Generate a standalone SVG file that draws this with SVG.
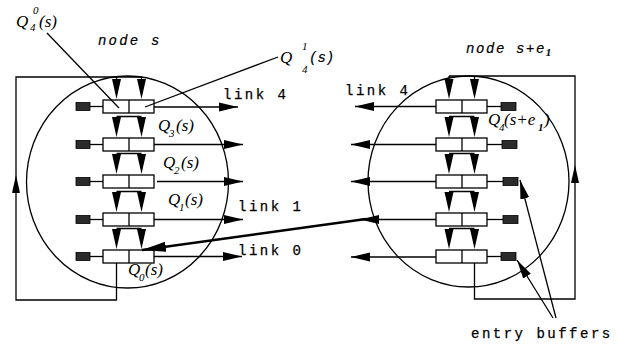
<svg xmlns="http://www.w3.org/2000/svg" width="618" height="344" viewBox="0 0 618 344">
  <style>
    .ln { fill: none; stroke: #000; stroke-width: 1.3; }
    .box { fill: #fff; stroke: #000; stroke-width: 1.3; }
    .ent { fill: #2b2b2b; stroke: #000; stroke-width: 0.8; }
    .hd { fill: #000; stroke: none; }
    .q { font-family: "Liberation Serif", serif; font-style: italic; font-size: 17px; fill: #000; }
    .qs { font-family: "Liberation Serif", serif; font-style: italic; font-size: 11px; fill: #000; }
    .mono { font-family: "Liberation Mono", monospace; font-size: 14px; letter-spacing: 2.5px; fill: #000; stroke: #000; stroke-width: 0.25; }
    .monoi { font-family: "Liberation Mono", monospace; font-style: italic; font-size: 14px; letter-spacing: 2.2px; fill: #000; stroke: #000; stroke-width: 0.2; }
  </style>
  <defs>
    <marker id="ah" markerWidth="19" markerHeight="10" refX="19" refY="5" orient="auto" markerUnits="userSpaceOnUse">
      <path d="M0,0.5 L19,5 L0,9.5 Z" fill="#000"/>
    </marker>
    <marker id="ahBig" markerWidth="24" markerHeight="11" refX="24" refY="5.5" orient="auto" markerUnits="userSpaceOnUse">
      <path d="M0,0.5 L24,5.5 L0,10.5 Z" fill="#000"/>
    </marker>
    <!-- downward arrowhead, base at y=0, tip at y=20 -->
    <path id="down" d="M-4.5,0 L4.5,0 L0,20 Z"/>
    <!-- queue pair: two buffer cells side by side, 51 x 13 -->
    <g id="pair">
      <rect class="box" x="0" y="0" width="51" height="13"/>
      <line class="ln" x1="26" y1="0" x2="26" y2="13"/>
    </g>
  </defs>

  <!-- node s -->
  <g id="node-s">
    <ellipse class="ln" cx="127.5" cy="182" rx="101" ry="106"/>
    <text class="monoi" x="98" y="45">node s</text>
    <!-- queue rows 4..0 -->
    <use href="#pair" x="103" y="100"/>
    <use href="#pair" x="103" y="138"/>
    <use href="#pair" x="103" y="175"/>
    <use href="#pair" x="103" y="213"/>
    <use href="#pair" x="103" y="250"/>
    <!-- entry buffers -->
    <g>
      <rect class="ent" x="76" y="102.5" width="14" height="8"/>
      <rect class="ent" x="76" y="140.5" width="14" height="8"/>
      <rect class="ent" x="76" y="177.5" width="14" height="8"/>
      <rect class="ent" x="76" y="215.5" width="14" height="8"/>
      <rect class="ent" x="76" y="252.5" width="14" height="8"/>
      <line class="ln" x1="90" y1="106.5" x2="103" y2="106.5"/>
      <line class="ln" x1="90" y1="144.5" x2="103" y2="144.5"/>
      <line class="ln" x1="90" y1="181.5" x2="103" y2="181.5"/>
      <line class="ln" x1="90" y1="219.5" x2="103" y2="219.5"/>
      <line class="ln" x1="90" y1="256.5" x2="103" y2="256.5"/>
    </g>
    <!-- labels -->
    <text class="q" x="16" y="27">Q</text><text class="qs" x="30" y="31">4</text><text class="qs" x="33" y="14">0</text><text class="q" x="39" y="27">(s)</text>
    <text class="q" x="158" y="131">Q</text><text class="qs" x="169" y="137">3</text><text class="q" x="176" y="131">(s)</text>
    <text class="q" x="163" y="168">Q</text><text class="qs" x="174" y="174">2</text><text class="q" x="181" y="168">(s)</text>
    <text class="q" x="168" y="205">Q</text><text class="qs" x="179" y="211">1</text><text class="q" x="185" y="205">(s)</text>
    <text class="q" x="128" y="275">Q</text><text class="qs" x="139" y="281">0</text><text class="q" x="145" y="275">(s)</text>
    <text class="q" x="280" y="63">Q</text><text class="qs" x="302" y="50">1</text><text class="qs" x="302" y="73">4</text><text class="monoi" x="309" y="62" style="letter-spacing:0">(s)</text>
  </g>

  <!-- node s+e1 -->
  <g id="node-s-e1">
    <ellipse class="ln" cx="468.5" cy="181.5" rx="100.5" ry="105.5"/>
    <text class="monoi" x="466" y="53" style="letter-spacing:1.6px">node s+e<tspan font-family="Liberation Serif, serif" font-weight="bold" font-size="10" dy="3">1</tspan></text>
    <use href="#pair" x="436" y="100"/>
    <use href="#pair" x="436" y="138"/>
    <use href="#pair" x="436" y="175"/>
    <use href="#pair" x="436" y="213"/>
    <use href="#pair" x="436" y="250"/>
    <g>
      <rect class="ent" x="501" y="102.5" width="15" height="8"/>
      <rect class="ent" x="502" y="140.5" width="15" height="8"/>
      <rect class="ent" x="503" y="177.5" width="15" height="8"/>
      <rect class="ent" x="503" y="215.5" width="15" height="8"/>
      <rect class="ent" x="501" y="252.5" width="15" height="8"/>
      <line class="ln" x1="487" y1="106.5" x2="501" y2="106.5"/>
      <line class="ln" x1="487" y1="144.5" x2="502" y2="144.5"/>
      <line class="ln" x1="487" y1="181.5" x2="503" y2="181.5"/>
      <line class="ln" x1="487" y1="219.5" x2="503" y2="219.5"/>
      <line class="ln" x1="487" y1="256.5" x2="501" y2="256.5"/>
    </g>
    <text class="q" x="488" y="125">Q</text><text class="qs" x="499" y="131">4</text><text class="q" x="504" y="125">(s+e</text><text class="qs" x="538" y="131" font-weight="bold">1</text><text class="q" x="544" y="125">)</text>
  </g>

  <!-- connectors -->
  <g id="connectors">
    <!-- recirculation loop, node s -->
    <path class="ln" d="M116.5,263 V300 H16 V77 H142"/>
    <path class="hd" d="M16,175 L20,193 L12,193 Z"/>
    <!-- recirculation loop, node s+e1 -->
    <path class="ln" d="M474.5,263 V299 H575 V76 H449"/>
    <path class="hd" d="M575,165 L579,183 L571,183 Z"/>

    <!-- vertical flow, node s -->
    <g class="hd">
      <use href="#down" x="116.5" y="79"/><use href="#down" x="141.5" y="79"/>
      <use href="#down" x="116.5" y="117"/><use href="#down" x="141.5" y="117"/>
      <use href="#down" x="116.5" y="154"/><use href="#down" x="141.5" y="154"/>
      <use href="#down" x="116.5" y="192"/><use href="#down" x="141.5" y="192"/>
      <use href="#down" x="116.5" y="229"/><use href="#down" x="141.5" y="229"/>
    </g>
    <path class="ln" d="M116.5,77 V80 M141.5,77 V80 M116.5,116.5 H141.5 M116.5,153.5 H141.5 M116.5,191.5 H141.5 M116.5,228.5 H141.5"/>

    <!-- vertical flow, node s+e1 -->
    <g class="hd">
      <use href="#down" x="449" y="79"/><use href="#down" x="474.5" y="79"/>
      <use href="#down" x="449" y="117"/><use href="#down" x="474.5" y="117"/>
      <use href="#down" x="449" y="154"/><use href="#down" x="474.5" y="154"/>
      <use href="#down" x="449" y="192"/><use href="#down" x="474.5" y="192"/>
      <use href="#down" x="449" y="229"/><use href="#down" x="474.5" y="229"/>
    </g>
    <path class="ln" d="M449,76 V80 M474.5,76 V80 M449,116.5 H474.5 M449,153.5 H474.5 M449,191.5 H474.5 M449,228.5 H474.5"/>

    <!-- outgoing links, node s -->
    <line class="ln" x1="154" y1="107" x2="238" y2="107" marker-end="url(#ah)"/>
    <line class="ln" x1="154" y1="144.5" x2="243" y2="144.5" marker-end="url(#ah)"/>
    <line class="ln" x1="157" y1="181.5" x2="243" y2="181.5" marker-end="url(#ah)"/>
    <line class="ln" x1="154" y1="219.5" x2="243" y2="219.5" marker-end="url(#ah)"/>
    <line class="ln" x1="154" y1="256.5" x2="242" y2="256.5" marker-end="url(#ah)"/>

    <!-- outgoing links, node s+e1 -->
    <line class="ln" x1="436" y1="106.5" x2="355" y2="106.5" marker-end="url(#ah)"/>
    <line class="ln" x1="436" y1="144.5" x2="351" y2="144.5" marker-end="url(#ah)"/>
    <line class="ln" x1="436" y1="181.5" x2="351" y2="181.5" marker-end="url(#ah)"/>
    <line class="ln" x1="436" y1="219.5" x2="360" y2="219.5" marker-end="url(#ah)"/>
    <line class="ln" x1="436" y1="257" x2="351" y2="257" marker-end="url(#ah)"/>

    <!-- link 1 of s+e1 feeding Q0(s) -->
    <line class="ln" style="stroke-width:2.6" x1="366" y1="219" x2="142" y2="250" marker-end="url(#ahBig)"/>

    <!-- label pointers -->
    <line class="ln" x1="47" y1="33" x2="119" y2="108"/>
    <line class="ln" x1="278" y1="57" x2="145" y2="107"/>
    <line class="ln" x1="556" y1="318" x2="520" y2="180" marker-end="url(#ah)"/>
    <line class="ln" x1="553" y1="318" x2="517" y2="260" marker-end="url(#ah)"/>
  </g>

  <!-- link names -->
  <text class="mono" x="223" y="99">link 4</text>
  <text class="mono" x="238" y="211">link 1</text>
  <text class="mono" x="238" y="255">link 0</text>
  <text class="mono" x="345" y="95">link 4</text>
  <text class="mono" x="471" y="338">entry buffers</text>
</svg>
